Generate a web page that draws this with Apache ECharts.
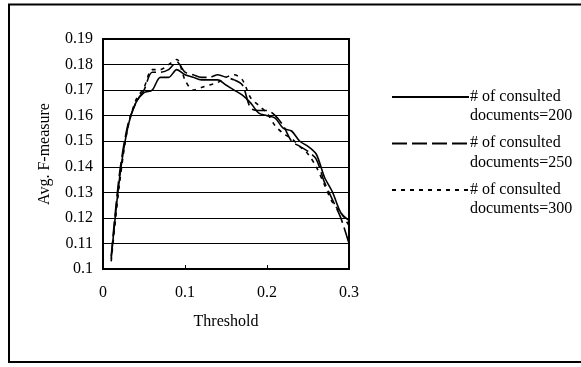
<!DOCTYPE html>
<html>
<head>
<meta charset="utf-8">
<script src="https://cdn.jsdelivr.net/npm/echarts@6/dist/echarts.min.js"></script>
<style>
  html, body { margin: 0; padding: 0; background: #fff; }
  #chart { width: 581px; height: 367px; }
</style>
</head>
<body>
<div id="chart"></div>
<script>
// Threshold values (x) shared by all three curves
const thresholds = [0.01, 0.02, 0.03, 0.04, 0.05, 0.06, 0.07, 0.08, 0.09, 0.10,
                    0.11, 0.12, 0.13, 0.14, 0.15, 0.16, 0.17, 0.18, 0.19, 0.20,
                    0.21, 0.22, 0.23, 0.24, 0.25, 0.26, 0.27, 0.28, 0.29, 0.30];

// Avg. F-measure for each number of consulted documents
const docs200 = [0.104, 0.135, 0.155, 0.165, 0.169, 0.170, 0.175, 0.175, 0.178, 0.176,
                 0.175, 0.174, 0.174, 0.174, 0.172, 0.170, 0.168, 0.165, 0.161, 0.160,
                 0.159, 0.155, 0.154, 0.150, 0.148, 0.145, 0.136, 0.130, 0.122, 0.119];
const docs250 = [0.105, 0.137, 0.156, 0.165, 0.170, 0.177, 0.177, 0.178, 0.181, 0.177,
                 0.176, 0.175, 0.175, 0.176, 0.175, 0.174, 0.172, 0.163, 0.162, 0.162,
                 0.160, 0.156, 0.150, 0.148, 0.146, 0.143, 0.134, 0.127, 0.120, 0.110];
const docs300 = [0.103, 0.133, 0.155, 0.166, 0.171, 0.178, 0.178, 0.180, 0.182, 0.174,
                 0.170, 0.171, 0.172, 0.173, 0.175, 0.176, 0.174, 0.167, 0.164, 0.161,
                 0.156, 0.153, 0.151, 0.148, 0.145, 0.140, 0.133, 0.126, 0.122, 0.117];

const seriesNames = ['# of consulted\ndocuments=200',
                     '# of consulted\ndocuments=250',
                     '# of consulted\ndocuments=300'];
const seriesData = [docs200, docs250, docs300];
const lineTypes = ['solid', [15, 5], [4, 5]];

const yTicks = [0.1, 0.11, 0.12, 0.13, 0.14, 0.15, 0.16, 0.17, 0.18, 0.19];
const xTicks = [0, 0.1, 0.2, 0.3];

const FONT = 'Liberation Serif';
const FS = 16;

const chart = echarts.init(document.getElementById('chart'), null, { renderer: 'canvas' });

const series = seriesData.map((vals, i) => ({
  name: seriesNames[i],
  type: 'line',
  data: thresholds.map((t, k) => [t, vals[k]]),
  showSymbol: false,
  smooth: 0.3,
  lineStyle: { color: '#000', width: 1.6, type: lineTypes[i] },
  z: 3 + i
}));

// Legend drawn as line samples with two-line captions
const legendGraphics = [];
seriesNames.forEach((name, i) => {
  const y = 97 + i * 46.5;
  legendGraphics.push({
    type: 'line',
    shape: { x1: 392, y1: y, x2: 469, y2: y },
    style: { stroke: '#000', lineWidth: 2, lineDash: lineTypes[i] === 'solid' ? null : lineTypes[i] }
  });
  legendGraphics.push({
    type: 'text',
    x: 470, y: y - 10,
    style: { text: name, font: FS + 'px "' + FONT + '"', fill: '#000', lineHeight: 19.5, textVerticalAlign: 'top' }
  });
});

chart.setOption({
  animation: false,
  backgroundColor: '#fff',
  grid: {
    left: 103, top: 39, right: 232, bottom: 98,
    show: true, borderColor: '#000', borderWidth: 2, backgroundColor: 'transparent'
  },
  xAxis: {
    type: 'value',
    min: xTicks[0], max: xTicks[xTicks.length - 1], interval: 0.1,
    name: 'Threshold', nameLocation: 'middle', nameGap: 45,
    nameTextStyle: { fontFamily: FONT, fontSize: FS, color: '#000' },
    axisLine: { show: true, lineStyle: { color: '#000', width: 2 } },
    axisTick: { show: true, inside: true, length: 4, lineStyle: { color: '#000' } },
    axisLabel: { fontFamily: FONT, fontSize: FS, color: '#000', margin: 16,
                 formatter: v => String(+v.toFixed(2)) },
    splitLine: { show: false }
  },
  yAxis: {
    type: 'value',
    min: yTicks[0], max: yTicks[yTicks.length - 1], interval: 0.01,
    name: 'Avg. F-measure', nameLocation: 'middle', nameGap: 50,
    nameTextStyle: { fontFamily: FONT, fontSize: FS, color: '#000' },
    axisLine: { show: true, lineStyle: { color: '#000', width: 2 } },
    axisTick: { show: false },
    axisLabel: { fontFamily: FONT, fontSize: FS, color: '#000', margin: 10,
                 formatter: v => String(+v.toFixed(2)) },
    splitLine: { show: true, lineStyle: { color: '#000', width: 1 } }
  },
  series: series,
  graphic: [
    {
      type: 'rect',
      shape: { x: 9, y: 4.5, width: 600, height: 357.5 },
      style: { fill: 'none', stroke: '#000', lineWidth: 2 },
      silent: true
    }
  ].concat(legendGraphics)
});
</script>
</body>
</html>
